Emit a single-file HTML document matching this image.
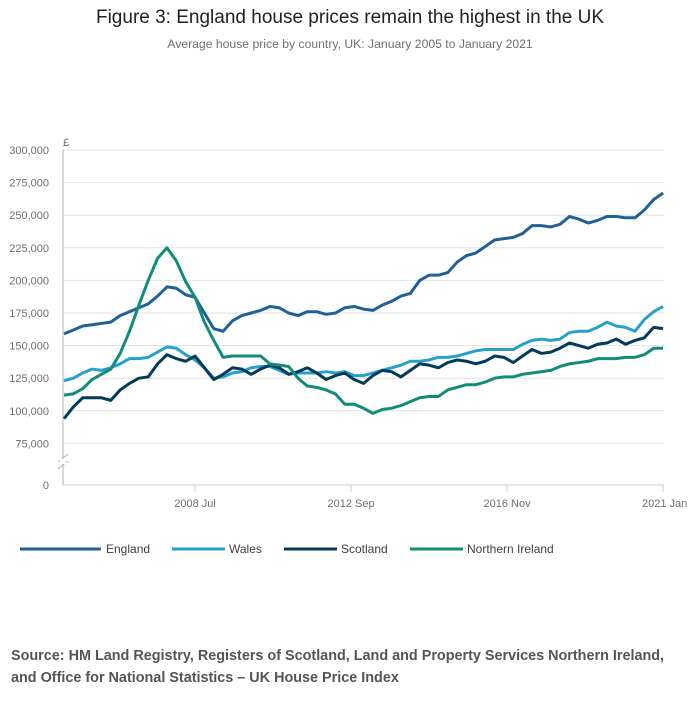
<!DOCTYPE html>
<html><head><meta charset="utf-8"><style>
body{margin:0;background:#fff;font-family:"Liberation Sans",sans-serif;}
#wrap{position:relative;width:700px;height:707px;overflow:hidden}
.t{position:absolute;left:0;width:700px;text-align:center;color:#222}
</style></head><body><div id="wrap">
<div class="t" style="top:7px;font-size:19px;color:#222">Figure 3: England house prices remain the highest in the UK</div>
<div class="t" style="top:37px;font-size:12.2px;color:#707070">Average house price by country, UK: January 2005 to January 2021</div>
<svg id="chart" width="700" height="620" style="position:absolute;left:0;top:0"></svg>
<div style="position:absolute;left:11px;top:645px;font-size:14.4px;font-weight:bold;color:#555;line-height:22px">Source: HM Land Registry, Registers of Scotland, Land and Property Services Northern Ireland,<br>and Office for National Statistics – UK House Price Index</div>
</div>
<script>
const months=[];for(let m=0;m<=192;m+=3)months.push(m);
const england=[159,162,165,166,167,168,173,176,179,182,188,195,194,189,187,175,163,161,169,173,175,177,180,179,175,173,176,176,174,175,179,180,178,177,181,184,188,190,200,204,204,206,214,219,221,226,231,232,233,236,242,242,241,243,249,247,244,246,249,249,248,248,254,262,267];
const wales=[123,125,129,132,131,133,136,140,140,141,145,149,148,143,139,133,125,126,129,130,133,134,134,131,128,129,129,129,130,129,130,127,127,129,131,133,135,138,138,139,141,141,142,144,146,147,147,147,147,151,154,155,154,155,160,161,161,164,168,165,164,161,170,176,180];
const scotland=[94,103,110,110,110,108,116,121,125,126,136,143,140,138,142,133,124,128,133,132,128,132,135,133,128,130,133,129,124,127,129,124,121,127,131,130,126,131,136,135,133,137,139,138,136,138,142,141,137,142,147,144,145,148,152,150,148,151,152,155,151,154,156,164,163];
const nireland=[112,113,117,124,128,132,144,161,181,200,217,225,215,199,187,168,154,141,142,142,142,142,136,135,134,125,119,118,116,113,105,105,102,98,101,102,104,107,110,111,111,116,118,120,120,122,125,126,126,128,129,130,131,134,136,137,138,140,140,140,141,141,143,148,148];
const yTicks=[300000,275000,250000,225000,200000,175000,150000,125000,100000,75000];
const yTickLabels=["300,000","275,000","250,000","225,000","200,000","175,000","150,000","125,000","100,000","75,000"];
const xTickMonths=[42,92,142,192];
const xTickLabels=["2008 Jul","2012 Sep","2016 Nov","2021 Jan"];
const seriesNames=["England","Wales","Scotland","Northern Ireland"];
const seriesColors=["#206095","#27a0cc","#003c57","#118c7b"];
const seriesData=[england,wales,scotland,nireland];

const NS="http://www.w3.org/2000/svg",svg=document.getElementById('chart');
const x=m=>64+m*3.12;
const y=v=>150+(300000-v)/25000*32.6;
function el(t,a){const e=document.createElementNS(NS,t);for(const k in a)e.setAttribute(k,a[k]);svg.appendChild(e);return e;}
yTicks.forEach((v,i)=>{
 const g=el('line',{x1:63,x2:664,y1:y(v),y2:y(v),stroke:'#e2e2e3','stroke-width':1});
 
 
 const t=el('text',{x:49,y:y(v)+4,'text-anchor':'end','font-size':11,fill:'#707070'});t.textContent=yTickLabels[i];
 
 
});
const z=el('text',{x:49,y:489,'text-anchor':'end','font-size':11,fill:'#707070'});z.textContent='0';


const cur=el('text',{x:63,y:146,'font-size':11,fill:'#707070'});cur.textContent='£';


const ya=el('line',{x1:63,x2:63,y1:150,y2:485,stroke:'#b3b3b3'});


const xa=el('line',{x1:63,x2:664,y1:485,y2:485,stroke:'#cbd2e0'});


const br=el('path',{d:'M58,462 L68,454 M58,469 L68,461',stroke:'#b3b3b3',fill:'none'});


el('rect',{x:60,y:459,width:6,height:5,fill:'#fff'});
xTickMonths.forEach((m,i)=>{
 el('line',{x1:x(m),x2:x(m),y1:485,y2:492,stroke:'#cbd2e0'});
 const t=el('text',{x:x(m),y:507,'text-anchor':i==3?'start':'middle','font-size':11,fill:'#707070'});
 if(i==3)t.setAttribute('x',x(m)-21);
 t.textContent=xTickLabels[i];
 
 
});
seriesData.forEach((d,s)=>{
 const p=el('polyline',{points:d.map((v,i)=>x(months[i])+','+y(v*1000)).join(' '),fill:'none',stroke:seriesColors[s],'stroke-width':3,'stroke-linejoin':'round'});
 
 
});
const lx=[20,172,284,410];
seriesNames.forEach((n,i)=>{
 const l=el('line',{x1:lx[i],x2:lx[i]+81-(i?28:0),y1:549,y2:549,stroke:seriesColors[i],'stroke-width':3});
 
 
 const t=el('text',{x:lx[i]+86-(i?29:0),y:553,'font-size':12,fill:'#414042'});t.textContent=n;
 
 
});
</script></body></html>
